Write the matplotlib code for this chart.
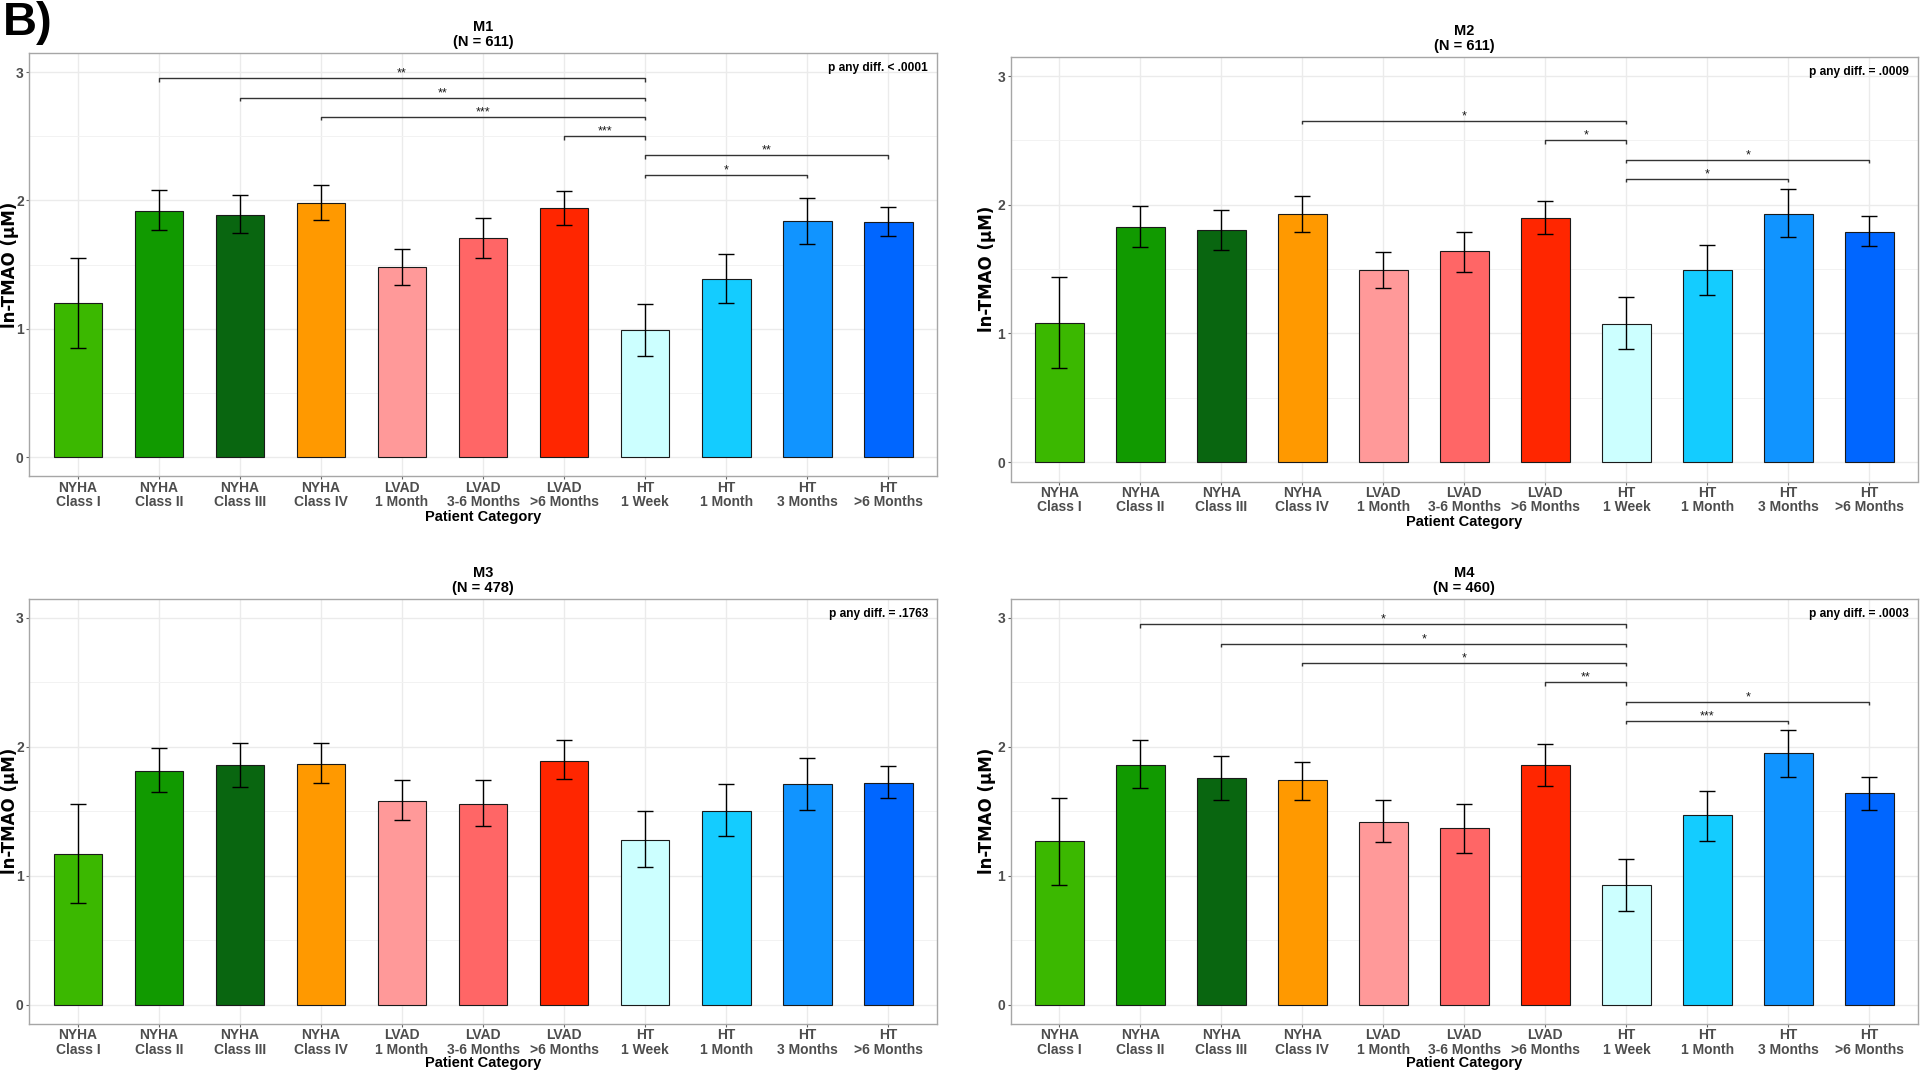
import matplotlib
matplotlib.use("Agg")
import matplotlib.pyplot as plt
import numpy as np

plt.rcParams['font.family'] = ['Liberation Sans', 'DejaVu Sans']

categories = ["NYHA\nClass I", "NYHA\nClass II", "NYHA\nClass III", "NYHA\nClass IV",
              "LVAD\n1 Month", "LVAD\n3-6 Months", "LVAD\n>6 Months",
              "HT\n1 Week", "HT\n1 Month", "HT\n3 Months", "HT\n>6 Months"]
bar_colors = ["#3BB800", "#119A00", "#096610", "#FF9900", "#FF9999", "#FF6666",
              "#FF2600", "#CCFFFF", "#14CCFF", "#1194FF", "#0066FF"]

titles = ["M1\n(N = 611)", "M2\n(N = 611)", "M3\n(N = 478)", "M4\n(N = 460)"]
p_texts = ["p any diff. < .0001", "p any diff. = .0009", "p any diff. = .1763", "p any diff. = .0003"]

m1_mean = [1.20, 1.92, 1.89, 1.98, 1.48, 1.71, 1.94, 0.99, 1.39, 1.84, 1.83]
m1_low = [0.85, 1.77, 1.75, 1.85, 1.34, 1.55, 1.81, 0.79, 1.20, 1.66, 1.72]
m1_high = [1.55, 2.08, 2.04, 2.12, 1.62, 1.86, 2.07, 1.19, 1.58, 2.02, 1.95]
m1_pairs = [(1, 7), (2, 7), (3, 7), (6, 7), (7, 10), (7, 9)]
m1_stars = ["**", "**", "***", "***", "**", "*"]
m1_bracket_y = [2.95, 2.80, 2.65, 2.50, 2.35, 2.20]

m2_mean = [1.08, 1.83, 1.80, 1.93, 1.49, 1.64, 1.90, 1.07, 1.49, 1.93, 1.79]
m2_low = [0.73, 1.67, 1.65, 1.79, 1.35, 1.48, 1.77, 0.88, 1.30, 1.75, 1.68]
m2_high = [1.44, 1.99, 1.96, 2.07, 1.63, 1.79, 2.03, 1.28, 1.69, 2.12, 1.91]
m2_pairs = [(3, 7), (6, 7), (7, 10), (7, 9)]
m2_stars = ["*", "*", "*", "*"]
m2_bracket_y = [2.65, 2.50, 2.35, 2.20]

m3_mean = [1.17, 1.81, 1.86, 1.87, 1.58, 1.56, 1.89, 1.28, 1.50, 1.71, 1.72]
m3_low = [0.79, 1.65, 1.69, 1.72, 1.43, 1.39, 1.75, 1.07, 1.31, 1.51, 1.60]
m3_high = [1.56, 1.99, 2.03, 2.03, 1.74, 1.74, 2.05, 1.50, 1.71, 1.91, 1.85]
m3_pairs = []
m3_stars = []
m3_bracket_y = []

m4_mean = [1.27, 1.86, 1.76, 1.74, 1.42, 1.37, 1.86, 0.93, 1.47, 1.95, 1.64]
m4_low = [0.93, 1.68, 1.59, 1.59, 1.26, 1.18, 1.70, 0.73, 1.27, 1.77, 1.51]
m4_high = [1.60, 2.05, 1.93, 1.88, 1.59, 1.56, 2.02, 1.13, 1.66, 2.13, 1.77]
m4_pairs = [(1, 7), (2, 7), (3, 7), (6, 7), (7, 10), (7, 9)]
m4_stars = ["*", "*", "*", "**", "*", "***"]
m4_bracket_y = [2.95, 2.80, 2.65, 2.50, 2.35, 2.20]

panels = [
    (m1_mean, m1_low, m1_high, m1_pairs, m1_stars, m1_bracket_y),
    (m2_mean, m2_low, m2_high, m2_pairs, m2_stars, m2_bracket_y),
    (m3_mean, m3_low, m3_high, m3_pairs, m3_stars, m3_bracket_y),
    (m4_mean, m4_low, m4_high, m4_pairs, m4_stars, m4_bracket_y),
]

positions = [
    [0.01526, 0.5547, 0.4727, 0.3960],
    [0.5264, 0.5500, 0.4726, 0.3970],
    [0.01526, 0.0430, 0.4727, 0.3975],
    [0.5264, 0.0430, 0.4726, 0.3975],
]
ylabel_x = [-0.021, -0.026, -0.021, -0.026]
xlabel_y = [-0.095, -0.095, -0.091, -0.091]

fig = plt.figure(figsize=(19.2, 10.7), dpi=100)
fig.patch.set_facecolor("white")

tick_gray = "#4D4D4D"
x = np.arange(len(categories))

for k, (mean, low, high, pairs, stars, by) in enumerate(panels):
    ax = fig.add_axes(positions[k])
    mean = np.array(mean)
    low = np.array(low)
    high = np.array(high)
    ax.bar(x, mean, width=0.6, color=bar_colors, edgecolor="#1A1A1A",
           linewidth=0.8, zorder=2)
    ax.errorbar(x, mean, yerr=[mean - low, high - mean], fmt="none",
                ecolor="black", elinewidth=1.0, capsize=5.5, capthick=1.0, zorder=3)
    for (i, j), lab, yy in zip(pairs, stars, by):
        ax.plot([i, i, j, j], [yy - 0.026, yy, yy, yy - 0.026], color="#333333",
                lw=1.0, zorder=4, solid_capstyle="butt")
        ax.text((i + j) / 2, yy + 0.012, lab, ha="center", va="baseline",
                fontsize=9, color="#1A1A1A", zorder=5)
    ax.text(0.99, 3.03, p_texts[k], transform=ax.get_yaxis_transform(),
            ha="right", va="center", fontsize=8.6, fontweight="bold", color="black")

    ax.set_xlim(-0.6, len(categories) - 0.4)
    ax.set_ylim(-0.15, 3.15)
    ax.set_yticks([0, 1, 2, 3])
    ax.set_yticks([0.5, 1.5, 2.5], minor=True)
    ax.set_xticks(x)
    ax.set_xticklabels(categories, fontsize=10, fontweight="bold", color=tick_gray,
                       linespacing=1.05)
    for t in ax.get_yticklabels():
        t.set_fontsize(10)
        t.set_fontweight("bold")
        t.set_color(tick_gray)
    ax.tick_params(axis="both", which="major", length=2.5, width=0.8,
                   color="#666666", pad=0.5)
    ax.tick_params(axis="y", which="major", pad=1.5)
    ax.tick_params(axis="y", which="minor", length=0)
    ax.grid(True, which="major", color="#EBEBEB", lw=1.0, zorder=0)
    ax.grid(True, which="minor", axis="y", color="#F2F2F2", lw=0.7, zorder=0)
    ax.set_axisbelow(True)
    for s in ax.spines.values():
        s.set_color("#A6A6A6")
        s.set_linewidth(1.0)

    ax.set_title(titles[k], fontsize=10.5, fontweight="bold", pad=5, linespacing=1.1)
    ax.set_xlabel("Patient Category", fontsize=10.5, fontweight="bold", color="black")
    ax.xaxis.set_label_coords(0.5, xlabel_y[k])
    ax.xaxis.label.set_va("center")
    ax.set_ylabel("ln-TMAO (µM)", fontsize=12, fontweight="bold", color="black",
                  family=["DejaVu Sans"])
    ax.yaxis.set_label_coords(ylabel_x[k], 0.5)
    ax.yaxis.label.set_va("center")

fig.text(0.0015, 0.999, "B)", fontsize=34, fontweight="bold", ha="left", va="top",
         color="black")

fig.savefig("out.png", dpi=100, facecolor="white")
